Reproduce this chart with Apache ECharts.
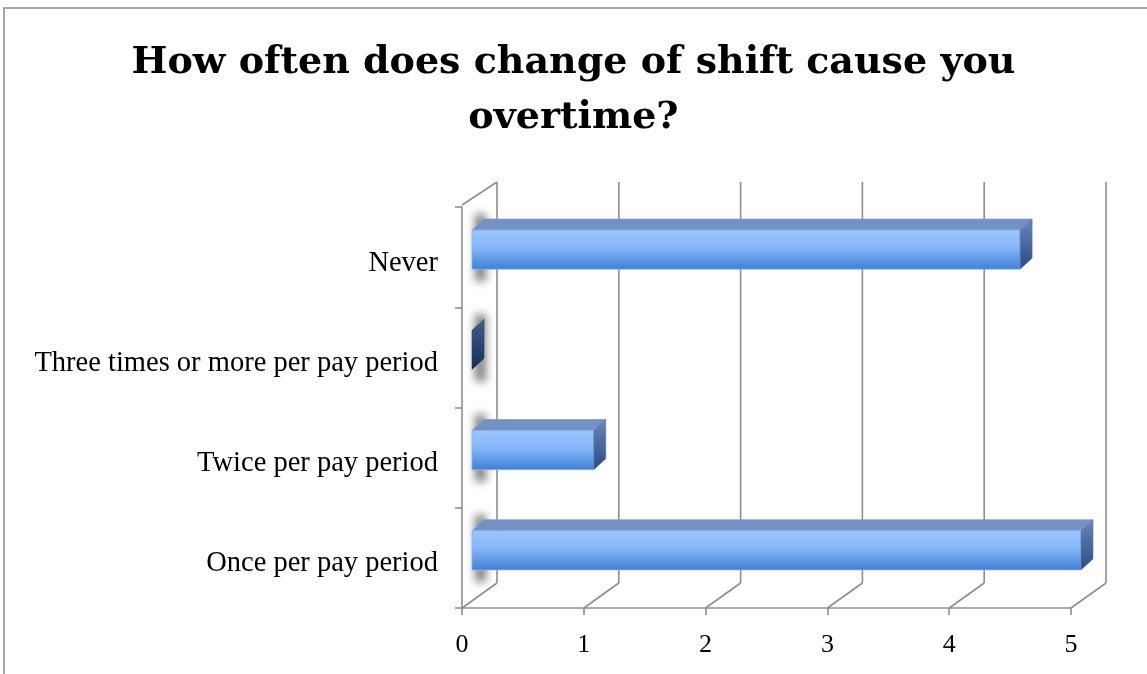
<!DOCTYPE html>
<html><head><meta charset="utf-8">
<script src="https://cdn.jsdelivr.net/npm/echarts@6/dist/echarts.min.js"></script>
<style>html,body{margin:0;padding:0;background:#fff}#c{width:1147px;height:674px}</style>
</head><body><div id="c"></div>
<script>
const titleText = 'How often does change of shift cause you\novertime?';
const categories = ['Once per pay period', 'Twice per pay period', 'Three times or more per pay period', 'Never'];
const values = [5, 1, 0, 4.5];
const xTicks = [0, 1, 2, 3, 4, 5];

const WALL_DX = 35, WALL_DY = -25;
const BAR_OFF_X = 10, BAR_OFF_Y = -7.5;
const BAR_DX = 12, BAR_DY = -11;
const GRID_COLOR = '#8e8e8e';
const TITLE_FONT = '"DejaVu Serif", "Liberation Serif", serif';
const LABEL_FONT = '"Liberation Serif", "DejaVu Serif", serif';

const chart = echarts.init(document.getElementById('c'), null, { renderer: 'canvas' });

function gridRender(params, api) {
  const cs = params.coordSys;
  const v = api.value(0);
  const xf = api.coord([v, 0])[0];
  const top = cs.y, bottom = cs.y + cs.height;
  const ls = { stroke: GRID_COLOR, lineWidth: 1.6 };
  const children = [
    { type: 'line', shape: { x1: xf + WALL_DX, y1: top + WALL_DY, x2: xf + WALL_DX, y2: bottom + WALL_DY }, style: ls },
    { type: 'line', shape: { x1: xf, y1: bottom, x2: xf + WALL_DX, y2: bottom + WALL_DY }, style: ls }
  ];
  if (v === 0) {
    children.push({ type: 'line', shape: { x1: xf, y1: top - 2, x2: xf + WALL_DX, y2: top + WALL_DY }, style: ls });
  }
  return { type: 'group', children: children };
}

function barRender(params, api) {
  const v = api.value(0), c = api.value(1);
  const p0 = api.coord([0, c]), p1 = api.coord([v, c]);
  const band = api.size([0, 1])[1];
  const h = band * 0.39;
  const x0 = p0[0] + BAR_OFF_X, x1 = p1[0] + BAR_OFF_X;
  const yc = p0[1] + BAR_OFF_Y;
  const yt = yc - h / 2, yb = yc + h / 2;
  const children = [];
  // soft blurred shadow cast on the side wall (only the shadow is visible)
  const SH = 3000;
  children.push({
    type: 'rect',
    shape: { x: x0 + 3 - SH, y: yt - 16, width: 11, height: h + 28 },
    style: { fill: '#000', shadowBlur: 9, shadowOffsetX: SH, shadowColor: 'rgba(0,0,0,0.5)' }
  });
  if (x1 - x0 > 0.5) {
    children.push({
      type: 'polygon',
      shape: { points: [[x0, yt], [x0 + BAR_DX, yt + BAR_DY], [x1 + BAR_DX, yt + BAR_DY], [x1, yt]] },
      style: { fill: '#7391c2', stroke: '#7f9dcc', lineWidth: 0.8 }
    });
    children.push({
      type: 'rect',
      shape: { x: x0, y: yt, width: x1 - x0, height: h },
      style: {
        fill: new echarts.graphic.LinearGradient(0, 0, 0, 1, [
          { offset: 0, color: '#9cc5ff' },
          { offset: 0.45, color: '#86b6f8' },
          { offset: 1, color: '#3e7fd3' }
        ]),
        stroke: '#8ab4ee', lineWidth: 0.8
      }
    });
  }
  const dark = v === 0;
  children.push({
    type: 'polygon',
    shape: { points: [[x1, yt], [x1 + BAR_DX, yt + BAR_DY], [x1 + BAR_DX, yb + BAR_DY], [x1, yb]] },
    style: {
      fill: new echarts.graphic.LinearGradient(0, 0, 0, 1, dark ? [
        { offset: 0, color: '#435f8c' },
        { offset: 1, color: '#162c52' }
      ] : [
        { offset: 0, color: '#6886ba' },
        { offset: 1, color: '#2a4c83' }
      ]),
      stroke: dark ? '#2c4470' : '#5a79ad', lineWidth: 0.6
    }
  });
  return { type: 'group', children: children };
}

chart.setOption({
  animation: false,
  backgroundColor: '#ffffff',
  title: {
    text: titleText,
    left: 'center',
    top: 31,
    textStyle: { fontFamily: TITLE_FONT, fontWeight: 'bold', fontSize: 38, lineHeight: 55, color: '#000' }
  },
  graphic: [{
    type: 'rect',
    shape: { x: 4, y: 8, width: 1200, height: 720 },
    style: { fill: 'none', stroke: '#8c8c8c', lineWidth: 1.5 },
    silent: true, z: -10
  }],
  grid: { left: 462, right: 76, top: 207, bottom: 66 },
  xAxis: {
    type: 'value', min: 0, max: 5, interval: 1,
    axisLine: { show: true, lineStyle: { color: GRID_COLOR, width: 1.6 } },
    axisTick: { show: true, length: 7, lineStyle: { color: GRID_COLOR, width: 1.6 } },
    splitLine: { show: false },
    axisLabel: { fontFamily: LABEL_FONT, fontSize: 26, color: '#000', margin: 24 }
  },
  yAxis: {
    type: 'category', data: categories,
    axisLine: { show: true, lineStyle: { color: GRID_COLOR, width: 1.6 } },
    axisTick: { show: true, length: 7, lineStyle: { color: GRID_COLOR, width: 1.6 } },
    axisLabel: { fontFamily: LABEL_FONT, fontSize: 28.5, color: '#000', margin: 24, verticalAlign: 'top', lineHeight: 12 }
  },
  series: [
    {
      type: 'custom', name: 'grid', renderItem: gridRender, clip: false, silent: true,
      data: xTicks.map(t => [t, 0]), z: 1
    },
    {
      type: 'custom', name: 'bars', renderItem: barRender, clip: false,
      encode: { x: 0, y: 1 },
      data: values.map((v, i) => [v, i]), z: 3
    }
  ]
});
</script></body></html>
